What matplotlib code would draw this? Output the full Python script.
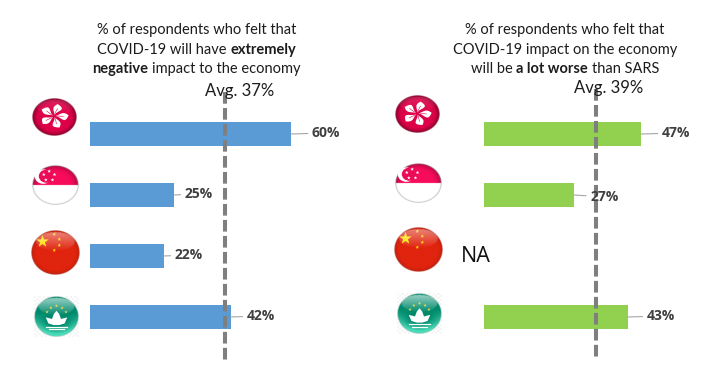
import numpy as np
import matplotlib
matplotlib.use("Agg")
import matplotlib.pyplot as plt
from matplotlib.patches import Polygon, Ellipse

# ---------- data ----------
regions = ["Hong Kong", "Singapore", "China", "Macau"]
left_values = [60, 25, 22, 42]
right_values = [47, 27, None, 43]
left_avg_label = "Avg. 37%"
right_avg_label = "Avg. 39%"
left_line_pos = 40.3      # where the reference draws its dashed line
right_line_pos = 33.5
left_title = [[("% of respondents who felt that", False)],
              [("COVID-19 will have", False), ("extremely", True)],
              [("negative", True), ("impact to the economy", False)]]
right_title = [[("% of respondents who felt that", False)],
               [("COVID-19 impact on the economy", False)],
               [("will be", False), ("a lot worse", True), ("than SARS", False)]]

W, H = 720, 378
BLUE, GREEN, DASH = "#5B9BD5", "#92D050", "#7F7F7F"
TXT, LBL, LEAD = "#1C1C1C", "#404040", "#A6A6A6"
FONT = "Lato"

fig = plt.figure(figsize=(W / 100, H / 100), dpi=100, facecolor="white")


def make_axes(x0, ppu, xmax):
    # y axis: category 0 centred at px 134, 61 px per category
    top, bottom = 80, 370
    ax = fig.add_axes([x0 / W, 1 - bottom / H, ppu * xmax / W, (bottom - top) / H])
    ax.set_xlim(0, xmax)
    ax.set_ylim((bottom - 134) / 61, (top - 134) / 61)
    ax.axis("off")
    ax.patch.set_alpha(0)
    return ax


def panel(ax, values, color, line_pos, line_top, line_bot, offsets):
    ys = np.arange(len(values))
    for y, v, off in zip(ys, values, offsets):
        if v is None:
            continue
        ax.barh(y, v, height=24 / 61, color=color, zorder=2)
        ax.annotate(f"{v}%", xy=(v, y), xytext=off, textcoords="offset pixels",
                    ha="left", va="center", fontsize=10, fontweight="bold",
                    family="Open Sans", color=LBL, zorder=5,
                    arrowprops=dict(arrowstyle="-", color=LEAD, lw=0.8,
                                    shrinkA=1, shrinkB=0))
    ymap = lambda p: (p - 134) / 61
    ax.plot([line_pos, line_pos], [ymap(line_top), ymap(line_bot)], color=DASH,
            lw=2.9, linestyle=(0, (2.9, 1.07)), dash_capstyle="butt", zorder=3)


axL = make_axes(90, 3.35, 80)
axR = make_axes(484, 3.34, 70)
panel(axL, left_values, BLUE, left_line_pos, 92, 360,
      [(21, 1), (11, 1), (11, 1), (16, 1)])
panel(axR, right_values, GREEN, right_line_pos, 89, 357,
      [(21, 1), (16, -2), (0, 0), (19, 1)])

# overlay in pixel coordinates for flags and free text
ov = fig.add_axes([0, 0, 1, 1], zorder=10)
ov.set_xlim(0, W)
ov.set_ylim(H, 0)
ov.axis("off")
ov.patch.set_alpha(0)


def sphere(cx, cy, rx, ry, colour_fn, rim, dark=0.45):
    n = 160
    u, v = np.meshgrid(np.linspace(-1, 1, n), np.linspace(-1, 1, n))
    r = np.hypot(u, v)
    rgb = colour_fn(u, v)
    shade = np.clip(1.05 - dark * np.clip((r - 0.6) / 0.4, 0, 1) ** 2, 0, 1)
    rgb = rgb * shade[..., None]
    rim_mask = np.clip((r - 0.94) / 0.06, 0, 1)[..., None]
    rgb = rgb * (1 - rim_mask) + np.array(rim) * rim_mask
    alpha = np.clip((1 - r) * 40, 0, 1)
    ov.imshow(np.dstack([np.clip(rgb, 0, 1), alpha]), extent=(cx - rx, cx + rx, cy + ry, cy - ry),
              aspect="auto", zorder=1, interpolation="bilinear")


def gloss(cx, cy, rx, ry, a=0.28):
    n = 100
    u, v = np.meshgrid(np.linspace(-1, 1, n), np.linspace(-1, 1, n))
    inside = ((u / 0.8) ** 2 + ((v + 0.5) / 0.42) ** 2) < 1
    al = inside * a * np.clip(-(v + 0.05) / 0.8, 0, 1)
    rgba = np.dstack([np.ones_like(u), np.ones_like(u), np.ones_like(u), al])
    ov.imshow(rgba, extent=(cx - rx, cx + rx, cy + ry, cy - ry), aspect="auto", zorder=4,
              interpolation="bilinear")


def star_pts(x, y, r, rot=-np.pi / 2):
    ang = rot + np.arange(10) * np.pi / 5
    rad = np.where(np.arange(10) % 2 == 0, r, r * 0.4)
    return np.c_[x + rad * np.cos(ang), y + rad * np.sin(ang)]


def solid(c):
    return lambda u, v: np.ones(u.shape + (3,)) * np.array(matplotlib.colors.to_rgb(c))


def flag_hk(cx, cy, rx, ry):
    sphere(cx, cy, rx, ry, solid("#DE0048"), (0.55, 0.12, 0.22), dark=0.5)
    fx, fy = cx - 0.02 * rx, cy - 0.05 * ry
    t = np.linspace(0, 1, 40)
    for k in range(5):
        th = -np.pi / 2 + k * 2 * np.pi / 5 + 0.25
        a = 0.05 + t * 0.60
        up = 0.24 * np.sin(np.pi * t ** 1.7)
        lo = 0.13 * np.sin(np.pi * t ** 1.4)
        xs = np.r_[a, a[::-1]]
        ys = np.r_[up, -lo[::-1]]
        px = xs * np.cos(th) - ys * np.sin(th)
        py = xs * np.sin(th) + ys * np.cos(th)
        ov.add_patch(Polygon(np.c_[fx + px * rx, fy + py * ry], fc="white", ec="none", zorder=3))
        ov.plot([fx + 0.14 * np.cos(th) * rx, fx + 0.42 * np.cos(th + .12) * rx],
                [fy + 0.14 * np.sin(th) * ry, fy + 0.42 * np.sin(th + .12) * ry],
                color="#DE0048", lw=0.4, zorder=3)
    gloss(cx, cy, rx, ry, 0.12)


def flag_sg(cx, cy, rx, ry):
    n = 160
    u, v = np.meshgrid(np.linspace(-1, 1, n), np.linspace(-1, 1, n))
    r = np.hypot(u, v)
    rgb = np.ones(u.shape + (3,))
    top = v < 0
    rgb[top] = matplotlib.colors.to_rgb("#EC0B57")
    rgb[top] *= (1.05 - 0.35 * np.clip((r[top] - 0.6) / 0.4, 0, 1) ** 2)[..., None]
    rim = np.clip((r - 0.93) / 0.07, 0, 1)[..., None]
    rgb = rgb * (1 - rim) + np.array([0.62, 0.62, 0.62]) * rim
    ov.imshow(np.dstack([np.clip(rgb, 0, 1), np.clip((1 - r) * 40, 0, 1)]),
              extent=(cx - rx, cx + rx, cy + ry, cy - ry), aspect="auto", zorder=1)
    ov.add_patch(Ellipse((cx - 0.52 * rx, cy - 0.42 * ry), 0.72 * rx, 0.72 * ry, fc="white", ec="none", zorder=2))
    ov.add_patch(Ellipse((cx - 0.38 * rx, cy - 0.44 * ry), 0.66 * rx, 0.66 * ry, fc="#EC0B57", ec="none", zorder=2))
    for k in range(5):
        th = -np.pi / 2 + k * 2 * np.pi / 5
        ov.add_patch(Polygon(star_pts(cx - 0.27 * rx + 0.24 * rx * np.cos(th),
                                      cy - 0.45 * ry + 0.24 * ry * np.sin(th), 1.9),
                             fc="white", ec="none", zorder=3))


def flag_cn(cx, cy, rx, ry):
    sphere(cx, cy, rx, ry, solid("#E0240E"), (0.68, 0.16, 0.12), dark=0.2)
    ov.add_patch(Polygon(star_pts(cx - 0.53 * rx, cy - 0.49 * ry, 6.5), fc="#FFE000", ec="none", zorder=3))
    for dx, dy in [(-0.05, -0.81), (0.155, -0.59), (0.155, -0.32), (-0.05, -0.1)]:
        ov.add_patch(Polygon(star_pts(cx + dx * rx, cy + dy * ry, 1.9), fc="#FFE000", ec="none", zorder=3))
    gloss(cx, cy, rx, ry, 0.4)


def flag_mo(cx, cy, rx, ry):
    # faint checker backdrop of the pasted picture
    n = 40
    yy, xx = np.mgrid[0:n, 0:n]
    chk = np.where((xx // 2 + yy // 2) % 2 == 0, 0.96, 1.0)
    ov.imshow(chk, cmap="gray", vmin=0, vmax=1,
              extent=(cx - rx, cx + rx, cy + ry, cy - ry), aspect="auto", zorder=0.5,
              interpolation="nearest")

    def col(u, v):
        base = np.array(matplotlib.colors.to_rgb("#008A6C"))
        c = np.ones(u.shape + (3,)) * base
        glow = np.clip((np.hypot(u, v) - 0.45) / 0.45, 0, 1)[..., None] * np.clip(v + 0.2, 0, 1)[..., None]
        return c * (1 - glow) + np.array([0.3, 0.88, 0.74]) * glow

    sphere(cx, cy, rx, ry, col, (0.6, 0.75, 0.72), dark=0.1)
    for dx, dy in [(-0.42, -0.22), (-0.25, -0.42), (0.0, -0.52), (0.25, -0.42), (0.42, -0.22)]:
        ov.add_patch(Polygon(star_pts(cx + dx * rx, cy + dy * ry, 1.7), fc="#F2D94E", ec="none", zorder=5))
    lotus = np.array([[-0.48, 0.04], [-0.2, 0.12], [-0.12, -0.12], [0.0, -0.28], [0.12, -0.12],
                      [0.2, 0.12], [0.48, 0.04], [0.36, 0.34], [0.12, 0.42], [-0.12, 0.42], [-0.36, 0.34]])
    ov.add_patch(Polygon(np.c_[cx + lotus[:, 0] * rx, cy + lotus[:, 1] * ry], fc="white", ec="none", zorder=3))
    for dy, hw in [(0.5, 0.48), (0.62, 0.35)]:
        ov.plot([cx - hw * rx, cx + hw * rx], [cy + dy * ry] * 2, color="white", lw=0.9, zorder=3)
    gloss(cx, cy, rx, ry, 0.55)


flag_hk(54.5, 117, 22.5, 19)
flag_sg(55.5, 185, 23.5, 20)
flag_cn(55.5, 252.5, 24.5, 22.5)
flag_mo(56.5, 316.5, 22.5, 20.5)
flag_hk(417.5, 114.5, 22.5, 19)
flag_sg(418.5, 183, 23.5, 20)
flag_cn(418.5, 249.5, 24.5, 22.5)
flag_mo(419.5, 314, 22.5, 20.5)
ov.set_xlim(0, W)
ov.set_ylim(H, 0)

renderer = fig.canvas.get_renderer()


def width_of(s, bold, size):
    t = ov.text(0, 0, s, family=FONT, fontsize=size, fontweight="bold" if bold else "normal")
    w = t.get_window_extent(renderer).width
    t.remove()
    return w


def rich_title(cx, y_centres, lines, size=10.5):
    sp = width_of("x x", False, size) - width_of("xx", False, size)
    for y, runs in zip(y_centres, lines):
        ws = [width_of(s, b, size) for s, b in runs]
        x = cx - (sum(ws) + sp * (len(runs) - 1)) / 2
        for (s, b), w in zip(runs, ws):
            ov.text(x, y, s, family=FONT, fontsize=size, fontweight="bold" if b else "normal",
                    color=TXT, ha="left", va="center", zorder=6)
            x += w + sp


rich_title(196.5, [30, 50, 69], left_title)
rich_title(565, [30, 50, 69], right_title)
ov.text(240, 91, left_avg_label, family=FONT, fontsize=12, color=TXT, ha="center", va="center", zorder=6)
ov.text(609, 88, right_avg_label, family=FONT, fontsize=12, color=TXT, ha="center", va="center", zorder=6)
ov.text(461, 256.5, "NA", family="Open Sans", fontsize=15.5, color="#111111", ha="left", va="center", zorder=6)

fig.savefig("out.png", dpi=100, facecolor="white")
